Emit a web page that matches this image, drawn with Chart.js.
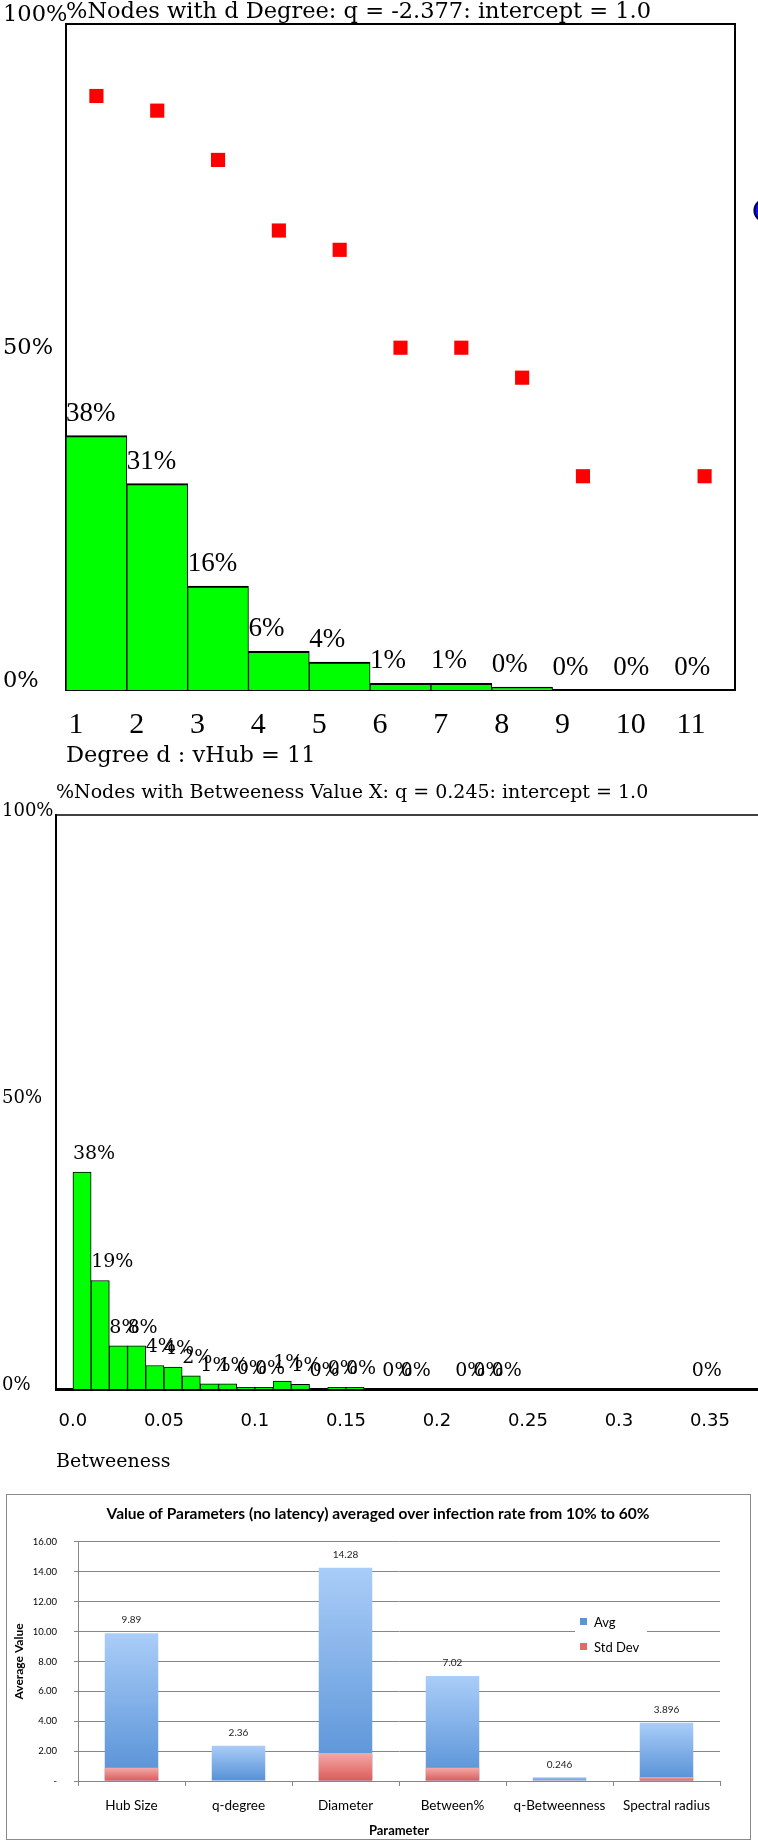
<!DOCTYPE html>
<html>
<head>
<meta charset="utf-8">
<script src="https://cdn.jsdelivr.net/npm/chart.js@4.4.0/dist/chart.umd.min.js"></script>
<style>
  html, body { margin: 0; padding: 0; background: #fff; }
  body { width: 758px; height: 1845px; position: relative; overflow: hidden; }
  canvas { position: absolute; left: 0; }
  #degChart { top: 0; }
  #betChart { top: 770px; }
  #paramChart { top: 1480px; }
</style>
</head>
<body>
<canvas id="degChart" width="758" height="770"></canvas>
<canvas id="betChart" width="758" height="710"></canvas>
<canvas id="paramChart" width="758" height="365"></canvas>
<script>
'use strict';

/* ---- DATA: degree distribution ---- */
const degrees = [1, 2, 3, 4, 5, 6, 7, 8, 9, 10, 11];
const degreePct = [38.2, 31.0, 15.6, 5.8, 4.2, 1.0, 1.0, 0.45, 0, 0, 0];
const degreeFitPct = [89.2, 87.0, 79.6, 69.0, 66.1, 51.4, 51.4, 46.9, 32.1, null, 32.1];
const hubX = [12];
const hubPct = [72];
const pctTicks = [0, 50, 100];
const pctTickText = ['0%', '50%', '100%'];

/* ---- DATA: betweeness distribution (bin centres) ---- */
const betBins = [0.005, 0.015, 0.025, 0.035, 0.045, 0.055, 0.065, 0.075, 0.085, 0.095, 0.105,
  0.115, 0.125, 0.135, 0.145, 0.155, 0.175, 0.185, 0.215, 0.225, 0.235, 0.345];
const betPct = [37.8, 18.9, 7.5, 7.5, 4.1, 3.8, 2.3, 0.9, 0.9, 0.3, 0.3,
  1.4, 0.8, 0, 0.3, 0.3, 0, 0, 0, 0, 0, 0];
const betTicks = [0, 0.05, 0.1, 0.15, 0.2, 0.25, 0.3, 0.35];
const betTickText = ['0.0', '0.05', '0.1', '0.15', '0.2', '0.25', '0.3', '0.35'];

/* ---- DATA: parameters ---- */
const params = ['Hub Size', 'q-degree', 'Diameter', 'Between%', 'q-Betweenness', 'Spectral radius'];
const paramAvg = [9.89, 2.36, 14.28, 7.02, 0.246, 3.896];
const paramStd = [0.88, 0.03, 1.87, 0.88, 0.02, 0.27];
const valueTicks = [0, 2, 4, 6, 8, 10, 12, 14, 16];
const valueTickText = ['-', '2.00', '4.00', '6.00', '8.00', '10.00', '12.00', '14.00', '16.00'];

/* ---- PLUGINS ---- */
// text above each bar of dataset 0
const barLabels = {
  id: 'barLabels',
  afterDatasetsDraw(chart, args, opts) {
    const meta = chart.getDatasetMeta(0);
    const data = chart.data.datasets[0].data;
    const ctx = chart.ctx;
    ctx.save();
    ctx.font = opts.font;
    ctx.fillStyle = opts.color;
    ctx.textBaseline = 'middle';
    ctx.textAlign = opts.center ? 'center' : 'left';
    meta.data.forEach((bar, i) => {
      const v = data[i];
      if (v === null || v === undefined) return;
      const txt = opts.percent ? Math.round(v) + '%' : String(v);
      const x = opts.center ? bar.x : bar.x - bar.width / 2;
      ctx.fillText(txt, x, bar.y - opts.dy);
    });
    ctx.restore();
  }
};

// the missing sides of a plot frame
const frameLines = {
  id: 'frameLines',
  afterDraw(chart, args, opts) {
    const {ctx, chartArea: a} = chart;
    ctx.save();
    ctx.strokeStyle = '#000';
    ctx.lineWidth = opts.width;
    ctx.beginPath();
    ctx.moveTo(a.left, a.top);
    ctx.lineTo(opts.toEdge ? chart.width : a.right, a.top);
    if (opts.right) ctx.lineTo(a.right, a.bottom);
    ctx.stroke();
    ctx.restore();
  }
};

// the blue point that sits past the right edge of the degree plot
const hubDot = {
  id: 'hubDot',
  afterDatasetsDraw(chart) {
    const {ctx, scales: {x, y}} = chart;
    ctx.save();
    hubX.forEach((v, i) => {
      ctx.beginPath();
      ctx.arc(x.getPixelForValue(v), y.getPixelForValue(hubPct[i]), 11, 0, Math.PI * 2);
      ctx.fillStyle = '#1010ff';
      ctx.fill();
      ctx.lineWidth = 2;
      ctx.strokeStyle = '#000050';
      ctx.stroke();
    });
    ctx.restore();
  }
};

const outerFrame = {
  id: 'outerFrame',
  beforeDraw(chart) {
    const ctx = chart.ctx;
    ctx.save();
    ctx.fillStyle = '#fff';
    ctx.fillRect(0, 0, chart.width, chart.height);
    ctx.strokeStyle = '#8a8a8a';
    ctx.lineWidth = 1;
    ctx.strokeRect(6.5, 14.5, 744, 345);
    ctx.restore();
  }
};

const boxLegend = {
  id: 'boxLegend',
  afterDatasetsDraw(chart, args, opts) {
    const ctx = chart.ctx;
    ctx.save();
    ctx.fillStyle = '#fff';
    ctx.fillRect(opts.x, opts.y, 72, 53);
    ctx.font = '13px Lato';
    ctx.textBaseline = 'middle';
    chart.data.datasets.forEach((ds, i) => {
      const cy = opts.y + 18 + i * 25;
      ctx.fillStyle = opts.colors[i];
      ctx.fillRect(opts.x + 5, cy - 5, 7, 7);
      ctx.fillStyle = '#000';
      ctx.fillText(ds.label, opts.x + 19, cy);
    });
    ctx.restore();
  }
};

function fixedTicks(vals) {
  return (scale) => { scale.ticks = vals.map(v => ({value: v})); };
}

function barGradient(top, bottom) {
  return (c) => {
    const y = c.chart.scales.y;
    if (c.type !== 'data' || !y) return bottom;
    const y0 = y.getPixelForValue(0);
    const y1 = y.getPixelForValue(c.raw);
    if (!isFinite(y0) || !isFinite(y1) || y0 === y1) return bottom;
    const g = c.chart.ctx.createLinearGradient(0, y1, 0, y0);
    g.addColorStop(0, top);
    g.addColorStop(1, bottom);
    return g;
  };
}

Chart.defaults.color = '#000';

/* ---- CHART 1: degree ---- */
new Chart(document.getElementById('degChart'), {
  type: 'bar',
  data: {
    labels: degrees,
    datasets: [
      {
        label: '%Nodes',
        data: degreePct,
        backgroundColor: '#00ff00',
        borderColor: '#000',
        borderWidth: {top: 2, left: 1, right: 1, bottom: 0},
        barPercentage: 1,
        categoryPercentage: 1
      },
      {
        type: 'scatter',
        label: 'fit',
        data: degreeFitPct,
        pointStyle: 'rect',
        radius: 10,
        backgroundColor: '#ff0000',
        borderWidth: 0
      }
    ]
  },
  options: {
    responsive: false,
    animation: false,
    events: [],
    layout: {padding: {left: 3, right: 23, top: 0, bottom: 0}},
    plugins: {
      legend: {display: false},
      tooltip: {enabled: false},
      title: {
        display: true,
        text: '%Nodes with d Degree: q = -2.377: intercept = 1.0',
        align: 'start',
        fullSize: false,
        color: '#000',
        font: {family: 'DejaVu Serif', size: 22.5, weight: 'normal', lineHeight: 1.07},
        padding: {top: 0, bottom: 0}
      },
      barLabels: {font: '27px "Liberation Serif"', color: '#000', dy: 22, percent: true},
      frameLines: {width: 2, right: true}
    },
    scales: {
      x: {
        type: 'linear',
        offset: false,
        min: 0.5,
        max: 11.5,
        z: 1,
        afterBuildTicks: fixedTicks(degrees),
        afterFit: (s) => { s.height = 80; },
        grid: {display: false, drawTicks: false},
        border: {display: true, color: '#000', width: 2},
        ticks: {
          align: 'start',
          labelOffset: -28,
          padding: 17,
          maxRotation: 0,
          autoSkip: false,
          font: {family: 'Liberation Serif', size: 30},
          callback: (v) => String(v)
        },
        title: {
          display: true,
          text: 'Degree d : vHub = 11',
          align: 'start',
          font: {family: 'DejaVu Serif', size: 22.5},
          padding: {top: 0, bottom: 0}
        }
      },
      y: {
        min: 0,
        max: 100,
        afterBuildTicks: fixedTicks(pctTicks),
        afterFit: (s) => { s.width = 63; },
        grid: {display: false, drawTicks: false},
        border: {display: true, color: '#000', width: 2},
        ticks: {
          crossAlign: 'far',
          labelOffset: -9,
          font: {family: 'DejaVu Serif', size: 22.5},
          callback: (v) => pctTickText[pctTicks.indexOf(v)]
        }
      }
    }
  },
  plugins: [barLabels, frameLines, hubDot]
});

/* ---- CHART 2: betweeness ---- */
new Chart(document.getElementById('betChart'), {
  type: 'bar',
  data: {
    labels: betBins,
    datasets: [{
      label: '%Nodes',
      data: betPct,
      backgroundColor: '#00ff00',
      borderColor: '#000',
      borderWidth: {top: 1, left: 1, right: 1, bottom: 0},
      barPercentage: 1,
      categoryPercentage: 1
    }]
  },
  options: {
    responsive: false,
    animation: false,
    events: [],
    layout: {padding: {left: 2, right: 0, top: 0, bottom: 0}},
    plugins: {
      legend: {display: false},
      tooltip: {enabled: false},
      title: {
        display: true,
        text: '%Nodes with Betweeness Value X: q = 0.245: intercept = 1.0',
        align: 'start',
        fullSize: false,
        color: '#000',
        font: {family: 'DejaVu Serif', size: 19, weight: 'normal', lineHeight: 1.2},
        padding: {top: 11.6, bottom: 10.6}
      },
      barLabels: {font: '19px "DejaVu Serif"', color: '#000', dy: 18, percent: true},
      frameLines: {width: 1.5, toEdge: true}
    },
    scales: {
      x: {
        type: 'linear',
        offset: false,
        min: -0.0093,
        max: 0.3764,
        z: 1,
        afterBuildTicks: fixedTicks(betTicks),
        afterFit: (s) => { s.height = 91; },
        grid: {display: false, drawTicks: false},
        border: {display: true, color: '#000', width: 3},
        ticks: {
          padding: 22,
          maxRotation: 0,
          autoSkip: false,
          font: {family: 'DejaVu Sans', size: 18},
          callback: (v) => betTickText[betTicks.indexOf(v)]
        },
        title: {
          display: true,
          text: 'Betweeness',
          align: 'start',
          font: {family: 'DejaVu Serif', size: 19},
          padding: {top: 18, bottom: 6.6}
        }
      },
      y: {
        min: 0,
        max: 100,
        afterBuildTicks: fixedTicks(pctTicks),
        afterFit: (s) => { s.width = 54; },
        grid: {display: false, drawTicks: false},
        border: {display: true, color: '#000', width: 2},
        ticks: {
          crossAlign: 'far',
          labelOffset: -4,
          font: {family: 'DejaVu Serif', size: 18},
          callback: (v) => pctTickText[pctTicks.indexOf(v)]
        }
      }
    }
  },
  plugins: [barLabels, frameLines]
});

/* ---- CHART 3: parameter averages ---- */
new Chart(document.getElementById('paramChart'), {
  type: 'bar',
  data: {
    labels: params,
    datasets: [
      {
        label: 'Avg',
        data: paramAvg,
        order: 2,
        backgroundColor: barGradient('#aacdf8', '#5590d6'),
        borderWidth: 0,
        barPercentage: 1,
        categoryPercentage: 0.5
      },
      {
        label: 'Std Dev',
        data: paramStd,
        order: 1,
        backgroundColor: barGradient('#f4a9a7', '#da5b58'),
        borderWidth: 0,
        barPercentage: 1,
        categoryPercentage: 0.5
      }
    ]
  },
  options: {
    responsive: false,
    animation: false,
    events: [],
    layout: {padding: {left: 6, right: 8, top: 14, bottom: 6}},
    plugins: {
      legend: {display: false},
      tooltip: {enabled: false},
      title: {
        display: true,
        text: 'Value of Parameters (no latency) averaged over infection rate from 10% to 60%',
        color: '#000',
        font: {family: 'Lato', size: 15.5, weight: 'bold', lineHeight: 1.1},
        padding: {top: 11.5, bottom: 19.4}
      },
      barLabels: {font: '10px Lato', color: '#222', dy: 13, center: true},
      boxLegend: {x: 575, y: 125, colors: ['#5b95d8', '#e26b68']}
    },
    scales: {
      x: {
        stacked: true,
        afterFit: (s) => { s.height = 58; },
        grid: {display: true, drawOnChartArea: false, drawTicks: true, tickLength: 5, color: '#868686'},
        border: {display: true, color: '#868686'},
        ticks: {padding: 12, font: {family: 'Lato', size: 13.5}},
        title: {
          display: true,
          text: 'Parameter',
          font: {family: 'Lato', size: 13, weight: 'bold'},
          padding: {top: 9.8, bottom: 0}
        }
      },
      y: {
        min: 0,
        max: 16,
        afterBuildTicks: fixedTicks(valueTicks),
        afterFit: (s) => { s.width = 72; },
        grid: {color: '#868686', drawTicks: true, tickLength: 4},
        border: {display: true, color: '#868686'},
        ticks: {
          padding: 17,
          font: {family: 'Lato', size: 9.5},
          callback: (v) => valueTickText[valueTicks.indexOf(v)]
        },
        title: {
          display: true,
          text: 'Average Value',
          font: {family: 'Lato', size: 12, weight: 'bold'},
          padding: {top: 5.8, bottom: 0}
        }
      },
      yR: {
        position: 'right',
        display: true,
        afterFit: (s) => { s.width = 30; },
        grid: {display: false},
        border: {display: false},
        ticks: {display: false}
      }
    }
  },
  plugins: [outerFrame, barLabels, boxLegend]
});
</script>
</body>
</html>
